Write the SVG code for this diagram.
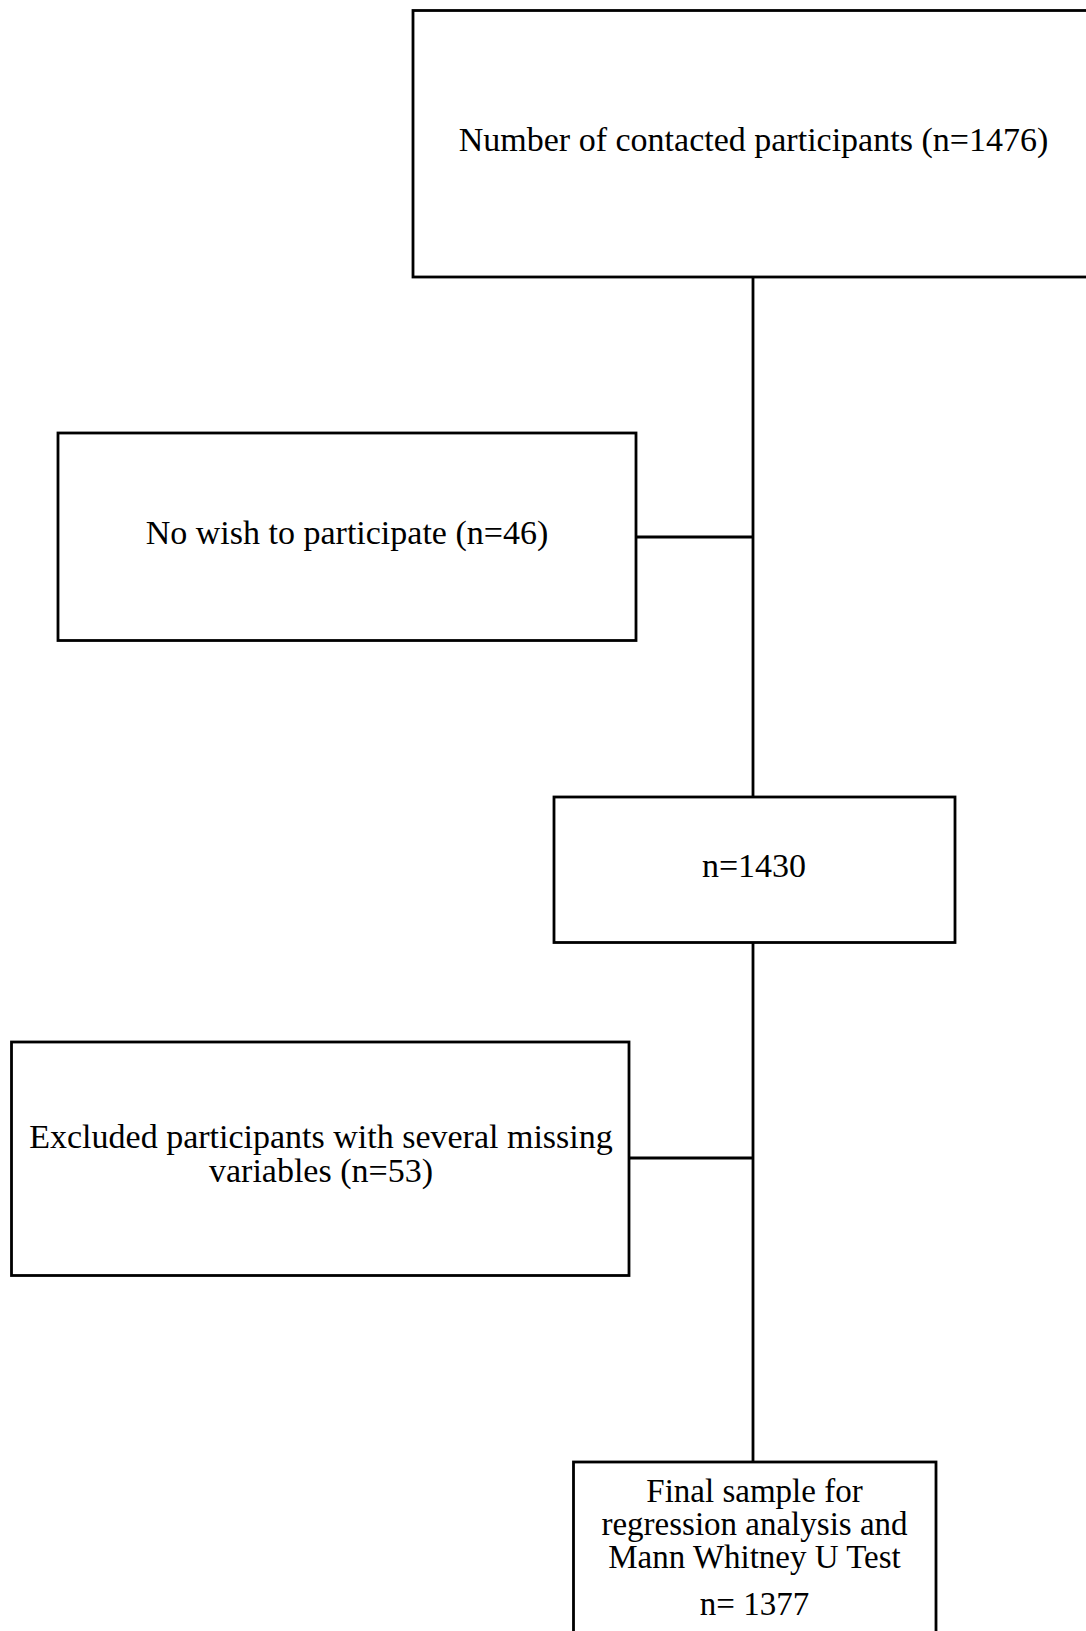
<svg xmlns="http://www.w3.org/2000/svg" width="1086" height="1631" viewBox="0 0 1086 1631">
<style>
.box{fill:#fff;stroke:#000;stroke-width:2.8}
.t{font-family:"Liberation Serif","Times New Roman",serif;font-size:34px;fill:#000;text-anchor:middle}
.s{font-size:33px}
.c{stroke:#000;stroke-width:2.8;fill:none}
</style>
<rect width="1086" height="1631" fill="#fff"/>
<g id="connectors">
<line class="c" x1="753" y1="277" x2="753" y2="797"/>
<line class="c" x1="636" y1="537" x2="754" y2="537"/>
<line class="c" x1="753" y1="942" x2="753" y2="1462"/>
<line class="c" x1="629" y1="1158" x2="754" y2="1158"/>
</g>
<g id="contacted">
<rect class="box" x="413" y="10.5" width="700" height="266.5"/>
<text class="t" x="753.5" y="151">Number of contacted participants (n=1476)</text>
</g>
<g id="nowish">
<rect class="box" x="58" y="433" width="578" height="207.5"/>
<text class="t" x="347" y="544">No wish to participate (n=46)</text>
</g>
<g id="n1430">
<rect class="box" x="554" y="797" width="401" height="145.5"/>
<text class="t" x="754" y="877">n=1430</text>
</g>
<g id="excluded">
<rect class="box" x="11.5" y="1042" width="617.5" height="233.5"/>
<text class="t" x="321" y="1148">Excluded participants with several missing</text>
<text class="t" x="321" y="1182">variables (n=53)</text>
</g>
<g id="final">
<rect class="box" x="573.5" y="1462" width="362.5" height="200"/>
<text class="t s" x="754.5" y="1502">Final sample for</text>
<text class="t s" x="754.5" y="1535">regression analysis and</text>
<text class="t s" x="754.5" y="1568">Mann Whitney U Test</text>
<text class="t s" x="754.5" y="1615">n= 1377</text>
</g>
</svg>
